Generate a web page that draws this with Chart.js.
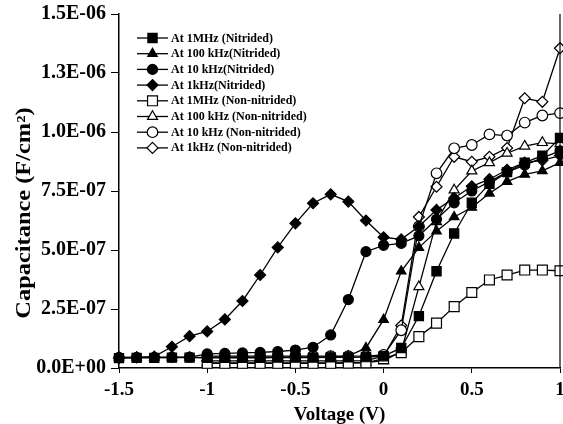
<!DOCTYPE html>
<html>
<head>
<meta charset="utf-8">
<script src="https://cdn.jsdelivr.net/npm/chart.js"></script>
<style>
  html, body { margin: 0; padding: 0; background: #fff; overflow: hidden; }
  canvas { display: block; }
</style>
</head>
<body>
<canvas id="cv" width="563" height="424"></canvas>
<script>
// C-V sweeps, capacitance in units of 1E-06 F/cm2
const voltsNitrided = [-1.5, -1.4, -1.3, -1.2, -1.1, -1.0, -0.9, -0.8, -0.7, -0.6, -0.5, -0.4, -0.3,
    -0.2, -0.1, 0.0, 0.1, 0.2, 0.3, 0.4, 0.5, 0.6, 0.7, 0.8, 0.9, 1.0];
const voltsNon = [-1.0, -0.9, -0.8, -0.7, -0.6, -0.5, -0.4, -0.3, -0.2, -0.1, 0.0,
    0.1, 0.2, 0.3, 0.4, 0.5, 0.6, 0.7, 0.8, 0.9, 1.0];

const nit1MHz = [0.042, 0.043, 0.043, 0.044, 0.044, 0.043, 0.043, 0.043, 0.043, 0.044, 0.044, 0.044, 0.045,
    0.045, 0.046, 0.05, 0.085, 0.22, 0.41, 0.57, 0.70, 0.78, 0.83, 0.87, 0.90, 0.975];
const nit100kHz = [0.045, 0.045, 0.045, 0.045, 0.045, 0.045, 0.045, 0.045, 0.045, 0.045, 0.046, 0.046, 0.047,
    0.05, 0.085, 0.205, 0.41, 0.51, 0.58, 0.64, 0.68, 0.74, 0.79, 0.82, 0.835, 0.87];
const nit10kHz = [0.045, 0.045, 0.045, 0.046, 0.046, 0.06, 0.062, 0.064, 0.066, 0.07, 0.076, 0.088, 0.14,
    0.29, 0.493, 0.52, 0.528, 0.56, 0.63, 0.70, 0.75, 0.79, 0.83, 0.86, 0.89, 0.92];
const nit1kHz = [0.042, 0.045, 0.048, 0.09, 0.135, 0.155, 0.206, 0.284, 0.394, 0.511, 0.613, 0.698, 0.736,
    0.705, 0.625, 0.554, 0.545, 0.60, 0.67, 0.72, 0.77, 0.80, 0.84, 0.87, 0.88, 0.90];

const non1MHz = [0.02, 0.02, 0.02, 0.02, 0.02, 0.02, 0.02, 0.02, 0.021, 0.022, 0.04,
    0.065, 0.133, 0.19, 0.26, 0.32, 0.373, 0.394, 0.415, 0.415, 0.412];
const non100kHz = [0.022, 0.022, 0.022, 0.022, 0.022, 0.022, 0.022, 0.022, 0.023, 0.024, 0.03,
    0.07, 0.344, 0.62, 0.754, 0.835, 0.87, 0.91, 0.94, 0.955, 0.95];
const non10kHz = [0.05, 0.05, 0.05, 0.05, 0.05, 0.05, 0.05, 0.05, 0.05, 0.05, 0.055,
    0.16, 0.60, 0.825, 0.931, 0.945, 0.99, 0.985, 1.04, 1.07, 1.08];
const non1kHz = [0.03, 0.03, 0.03, 0.03, 0.03, 0.03, 0.03, 0.03, 0.03, 0.031, 0.05,
    0.18, 0.64, 0.768, 0.895, 0.874, 0.895, 0.932, 1.143, 1.128, 1.355];

const seriesLabels = [
    'At 1MHz (Nitrided)',
    'At 100 kHz(Nitrided)',
    'At 10 kHz(Nitrided)',
    'At 1kHz(Nitrided)',
    'At 1MHz (Non-nitrided)',
    'At 100 kHz (Non-nitrided)',
    'At 10 kHz (Non-nitrided)',
    'At 1kHz (Non-nitrided)'
];

const xTickLabels = ['-1.5', '-1', '-0.5', '0', '0.5', '1'];
const yTickLabels = ['0.0E+00', '2.5E-07', '5.0E-07', '7.5E-07', '1.0E-06', '1.3E-06', '1.5E-06'];

const serif = "'Liberation Serif', 'Times New Roman', serif";

const markers = [
    { pointStyle: 'rect', radius: 6.5, filled: true },
    { pointStyle: 'triangle', radius: 5.5, filled: true },
    { pointStyle: 'circle', radius: 5, filled: true },
    { pointStyle: 'rectRot', radius: 5.5, filled: true },
    { pointStyle: 'rect', radius: 7, filled: false },
    { pointStyle: 'triangle', radius: 5.8, filled: false },
    { pointStyle: 'circle', radius: 5.3, filled: false },
    { pointStyle: 'rectRot', radius: 5.5, filled: false }
];

const seriesData = [
    [voltsNitrided, nit1MHz],
    [voltsNitrided, nit100kHz],
    [voltsNitrided, nit10kHz],
    [voltsNitrided, nit1kHz],
    [voltsNon, non1MHz],
    [voltsNon, non100kHz],
    [voltsNon, non10kHz],
    [voltsNon, non1kHz]
];

const datasets = seriesData.map(([xs, ys], i) => {
    const m = markers[i];
    return {
        label: seriesLabels[i],
        data: xs.map((x, j) => ({ x, y: ys[j] })),
        borderColor: '#000',
        borderWidth: 1.3,
        backgroundColor: m.filled ? '#000' : '#fff',
        pointStyle: m.pointStyle,
        pointRadius: m.radius,
        pointBorderColor: '#000',
        pointBackgroundColor: m.filled ? '#000' : '#fff',
        pointBorderWidth: 1.2,
        tension: 0,
        clip: false
    };
});

// right frame line, in-plot legend and the rotated y title
const decorations = {
    id: 'decorations',
    afterDatasetsDraw(chart) {
        const { ctx, chartArea } = chart;
        ctx.save();
        ctx.strokeStyle = '#000';
        ctx.lineWidth = 1.2;
        ctx.beginPath();
        ctx.moveTo(chartArea.right, chartArea.top);
        ctx.lineTo(chartArea.right, chartArea.bottom);
        ctx.stroke();

        ctx.font = 'bold 12px ' + serif;
        ctx.textBaseline = 'middle';
        ctx.textAlign = 'left';
        seriesLabels.forEach((label, i) => {
            const y = 38 + i * 15.7;
            const m = markers[i];
            ctx.strokeStyle = '#000';
            ctx.lineWidth = 1.3;
            ctx.beginPath();
            ctx.moveTo(137, y);
            ctx.lineTo(168, y);
            ctx.stroke();
            ctx.fillStyle = m.filled ? '#000' : '#fff';
            ctx.lineWidth = 1.2;
            Chart.helpers.drawPoint(ctx, {
                pointStyle: m.pointStyle,
                radius: m.radius,
                rotation: 0,
                borderWidth: 1.2
            }, 152.5, y);
            ctx.fillStyle = '#000';
            ctx.fillText(label, 171, y + 0.5);
        });

        ctx.translate(25, 213);
        ctx.rotate(-Math.PI / 2);
        ctx.scale(1.22, 1);
        ctx.font = 'bold 20px ' + serif;
        ctx.textAlign = 'center';
        ctx.fillStyle = '#000';
        ctx.fillText('Capacitance (F/cm\u00B2)', 0, 0);
        ctx.restore();
    }
};

new Chart(document.getElementById('cv'), {
    type: 'line',
    data: { datasets },
    options: {
        responsive: false,
        animation: false,
        devicePixelRatio: 1,
        layout: { autoPadding: false, padding: { top: 14, right: 3, bottom: 0, left: 0 } },
        plugins: {
            legend: { display: false },
            tooltip: { enabled: false }
        },
        scales: {
            x: {
                type: 'linear',
                min: -1.5,
                max: 1,
                afterFit(scale) {
                    scale.height = 56;
                    scale.paddingLeft = 0;
                    scale.paddingRight = 0;
                },
                grid: {
                    drawOnChartArea: false,
                    tickLength: 5,
                    tickColor: '#000',
                    tickWidth: 1
                },
                border: { display: true, color: '#000', width: 1.5 },
                ticks: {
                    stepSize: 0.5,
                    autoSkip: false,
                    maxRotation: 0,
                    padding: 6,
                    color: '#000',
                    font: { family: serif, size: 19, weight: 'bold' },
                    callback: (v, i) => xTickLabels[i]
                },
                title: {
                    display: true,
                    text: 'Voltage (V)',
                    color: '#000',
                    font: { family: serif, size: 19, weight: 'bold', lineHeight: 1 },
                    padding: { top: 0, bottom: -1 }
                }
            },
            y: {
                min: 0,
                max: 1.5,
                afterFit(scale) {
                    scale.width = 119;
                    scale.paddingTop = 0;
                    scale.paddingBottom = 0;
                },
                grid: {
                    drawOnChartArea: false,
                    tickLength: 8,
                    tickColor: '#000',
                    tickWidth: 1
                },
                border: { display: true, color: '#000', width: 1.5 },
                ticks: {
                    stepSize: 0.25,
                    padding: 5,
                    color: '#000',
                    font: { family: serif, size: 20, weight: 'bold' },
                    callback: (v, i) => yTickLabels[i]
                }
            }
        }
    },
    plugins: [decorations]
});
</script>
</body>
</html>
